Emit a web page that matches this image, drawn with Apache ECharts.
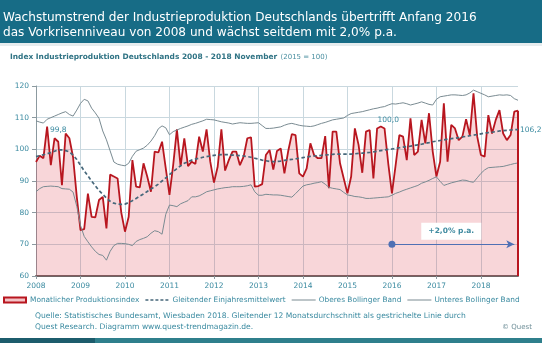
<!DOCTYPE html>
<html>
<head>
<meta charset="utf-8">
<script src="https://cdn.jsdelivr.net/npm/echarts@6/dist/echarts.min.js"></script>
<style>
  html, body { margin: 0; padding: 0; background: #ffffff; }
  #chart { width: 542px; height: 343px; }
</style>
</head>
<body>
<div id="chart"></div>
<script>
// ---- data: German industrial production index, monthly, Jan 2008 - Nov 2018 (2015 = 100)
const years = [2008, 2009, 2010, 2011, 2012, 2013, 2014, 2015, 2016, 2017, 2018];
const lastMonth = '2018-11';

const production = [
  96.0, 98.0, 97.2, 107.2, 95.0, 103.5, 102.4, 88.7, 105.0, 103.5, 97.5, 85.0,
  74.5, 74.8, 86.0, 78.7, 78.5, 84.0, 85.0, 75.0, 92.0, 91.4, 90.8, 80.0,
  74.0, 78.7, 96.6, 88.2, 88.0, 95.6, 91.4, 86.6, 99.3, 99.0, 102.4, 94.0,
  85.6, 95.0, 106.3, 94.7, 103.5, 94.7, 96.1, 95.4, 104.0, 99.3, 106.3, 96.1,
  89.5, 94.5, 106.3, 93.3, 96.6, 99.3, 99.3, 95.0, 97.7, 103.5, 103.8, 88.2,
  88.4, 89.0, 98.2, 99.8, 93.6, 99.5, 100.3, 92.4, 99.3, 104.8, 104.5, 92.4,
  91.4, 94.0, 101.9, 98.2, 97.2, 97.2, 104.2, 87.7, 105.6, 105.6, 95.6, 90.8,
  86.1, 91.4, 106.6, 101.4, 92.6, 105.6, 106.1, 90.8, 106.6, 107.2, 106.6, 95.6,
  86.1, 95.0, 104.5, 104.0, 96.6, 109.8, 98.2, 99.3, 109.3, 101.9, 111.4, 99.3,
  91.4, 96.1, 114.5, 96.1, 107.7, 106.6, 102.9, 104.0, 109.5, 104.5, 117.7, 104.0,
  98.2, 97.7, 110.8, 105.0, 109.3, 112.4, 105.0, 102.9, 104.5, 111.9, 112.2
];

// 12-month moving average (dashed line)
const movingAverage = [
  97.7, 98.0, 98.3, 98.6, 99.0, 99.4, 99.8, 99.8, 99.6, 99.2, 98.2, 96.8,
  95.0, 93.2, 91.6, 90.0, 88.5, 87.0, 85.8, 84.6, 83.6, 83.0, 82.7, 82.6,
  82.7, 83.2, 83.8, 84.5, 85.2, 85.9, 86.7, 87.5, 88.2, 89.0, 90.0, 91.0,
  92.0, 93.0, 93.9, 94.8, 95.6, 96.1, 96.6, 96.9, 97.2, 97.5, 97.7, 97.9,
  98.1, 98.2, 98.3, 98.3, 98.3, 98.2, 98.1, 98.0, 97.9, 97.7, 97.5, 97.2,
  96.9, 96.6, 96.4, 96.2, 96.1, 96.2, 96.3, 96.5, 96.7, 96.8, 97.0, 97.2,
  97.4, 97.6, 97.8, 97.9, 98.0, 98.1, 98.2, 98.3, 98.4, 98.5, 98.5, 98.5,
  98.5, 98.5, 98.6, 98.7, 98.8, 98.9, 99.0, 99.2, 99.4, 99.6, 99.8, 100.0,
  100.1, 100.3, 100.5, 100.7, 100.9, 101.0, 101.2, 101.4, 101.6, 101.9, 102.1, 102.4,
  102.6, 102.8, 103.0, 103.2, 103.4, 103.5, 103.7, 103.9, 104.1, 104.3, 104.5, 104.7,
  104.9, 105.1, 105.3, 105.4, 105.6, 105.8, 105.9, 106.0, 106.1, 106.2, 106.2
];

const upperBand = [
  109.0, 108.6, 108.3, 109.5, 110.0, 110.5, 111.0, 111.5, 111.9, 111.0, 110.5, 112.4,
  114.5, 115.8, 115.3, 113.0, 111.5, 109.8, 105.8, 103.0, 99.5, 96.0, 95.3, 95.0,
  94.8, 95.6, 97.8, 99.4, 99.9, 100.4, 101.3, 102.6, 104.3, 106.5, 107.4, 106.8,
  104.6, 105.6, 106.1, 106.6, 107.0, 107.4, 107.9, 108.2, 108.6, 109.0, 109.5, 109.4,
  109.3, 109.0, 108.7, 108.5, 108.3, 108.0, 108.2, 108.4, 108.3, 108.2, 108.2, 108.3,
  108.4, 107.5, 106.6, 106.6, 106.7, 106.9, 107.1, 107.6, 108.0, 108.2, 107.9, 107.6,
  107.4, 107.3, 107.2, 107.4, 107.8, 108.2, 108.5, 108.9, 109.3, 109.5, 109.7, 109.9,
  110.7, 111.3, 111.5, 111.7, 111.9, 112.2, 112.5, 112.8, 113.0, 113.3, 113.5, 114.0,
  114.4, 114.3, 114.5, 114.7, 114.4, 114.0, 114.3, 114.6, 115.0, 114.6, 114.2, 114.0,
  115.8, 116.6, 116.8, 117.0, 117.2, 117.2, 117.1, 117.0, 117.2, 117.8, 118.7, 118.2,
  117.7, 117.2, 116.6, 116.8, 117.0, 117.2, 117.1, 117.2, 117.0, 116.0, 115.5
];

const lowerBand = [
  86.6, 87.6, 88.2, 88.3, 88.4, 88.3, 88.2, 87.6, 87.5, 87.4, 86.5, 82.0,
  76.0, 72.5, 70.8, 69.2, 67.8, 66.8, 66.5, 65.0, 67.8, 69.6, 70.3, 70.3,
  70.2, 70.0, 69.6, 70.9, 71.5, 71.9, 72.4, 73.5, 74.3, 74.0, 73.2, 79.5,
  82.4, 82.2, 81.9, 82.8, 83.3, 83.8, 85.0, 85.0, 85.3, 85.9, 86.6, 86.9,
  87.2, 87.5, 87.7, 87.9, 88.0, 88.2, 88.2, 88.2, 88.3, 88.5, 88.8, 86.6,
  85.5, 85.5, 85.8, 85.7, 85.6, 85.6, 85.5, 85.3, 85.1, 84.9, 86.0, 87.2,
  88.4, 88.8, 89.0, 89.3, 89.5, 89.8, 89.0, 88.0, 87.7, 87.5, 87.3, 86.4,
  85.6, 85.4, 85.1, 85.0, 84.8, 84.5, 84.5, 84.6, 84.7, 84.8, 84.9, 85.0,
  85.5, 86.1, 86.5, 87.0, 87.4, 87.8, 88.2, 88.6, 89.3, 89.7, 90.2, 90.8,
  91.3, 89.9, 88.6, 89.0, 89.4, 89.7, 90.0, 90.3, 90.2, 89.8, 89.6, 91.0,
  92.4, 93.5, 94.2, 94.3, 94.4, 94.5, 94.6, 94.9, 95.2, 95.5, 95.7
];

// moving-average values written on the chart
const averageCallouts = ['2008-07', '2015-12', '2018-11'];

// trend annotation: +2,0 % per year since January 2016
const trendStart = '2016-01';
const trendEnd = '2018-10';
const trendLevel = 70;
const trendText = '+2,0% p.a.';
const trendTextAt = ['2017-05', 74.1];

const yTicks = [60, 70, 80, 90, 100, 110, 120];

const titleLines = [
  'Wachstumstrend der Industrieproduktion Deutschlands übertrifft Anfang 2016',
  'das Vorkrisenniveau von 2008 und wächst seitdem mit 2,0% p.a.'
];
const subtitleMain = 'Index Industrieproduktion Deutschlands 2008 - 2018 November';
const subtitleNote = '(2015 = 100)';
const legendNames = [
  'Monatlicher Produktionsindex',
  'Gleitender Einjahresmittelwert',
  'Oberes Bollinger Band',
  'Unteres Bollinger Band'
];
const sourceLines = [
  'Quelle: Statistisches Bundesamt, Wiesbaden 2018. Gleitender 12 Monatsdurchschnitt als gestrichelte Linie durch',
  'Quest Research. Diagramm www.quest-trendmagazin.de.'
];
const copyright = '© Quest';

// ---- month categories
const months = [];
years.forEach(y => {
  for (let m = 1; m <= 12; m++) {
    if (months.length && months[months.length - 1] === lastMonth) return;
    months.push(y + '-' + String(m).padStart(2, '0'));
  }
});

// ---- styles
const FONT = "'DejaVu Sans', Verdana, sans-serif";
const TEAL = '#3a8aa0';
const RED = '#b8161f';
const PINK_AREA = 'rgba(217, 48, 60, 0.28)';
const AVG_COLOR = '#46677a';
const BAND_COLOR = '#7a8b92';
const GRID_COLOR = '#c9d8df';
const ARROW_COLOR = '#4f70b4';
const SMALL_FONT = "7.4px 'DejaVu Sans'";
const comma = v => v.toFixed(1).replace('.', ',');

// placement of the value callouts on the dashed line
const calloutStyle = {
  '2008-07': { position: 'top', distance: 16 },
  '2015-12': { position: 'top', distance: 25 },
  '2018-11': { position: 'right', distance: 2 }
};

const calloutPoints = averageCallouts.map(month => {
  const i = months.indexOf(month);
  const st = calloutStyle[month];
  return {
    coord: [month, movingAverage[i]],
    value: movingAverage[i],
    symbol: 'circle',
    symbolSize: 0,
    label: {
      show: true, position: st.position, distance: st.distance,
      formatter: p => comma(p.value), color: TEAL,
      fontFamily: FONT, fontSize: 7.5
    }
  };
});

const lastIdx = months.length - 1;

// ---- legend (custom drawn, single row running off the right edge)
const measureCtx = document.createElement('canvas').getContext('2d');
measureCtx.font = SMALL_FONT;
const legendY = 300;
const legendElems = [];
let lx = 3;
legendNames.forEach((name, k) => {
  const iconW = 24;
  if (k === 0) {
    legendElems.push({ type: 'rect', shape: { x: lx + 1, y: legendY - 2.5, width: iconW - 2, height: 5 },
      style: { fill: '#f3c3c6', stroke: RED, lineWidth: 2 } });
  } else {
    legendElems.push({ type: 'line', shape: { x1: lx, y1: legendY, x2: lx + iconW, y2: legendY },
      style: k === 1
        ? { stroke: AVG_COLOR, lineWidth: 1.6, lineDash: [3, 2] }
        : { stroke: BAND_COLOR, lineWidth: 1 } });
  }
  legendElems.push({ type: 'text', x: lx + iconW + 3, y: legendY,
    style: { text: name, fill: TEAL, font: SMALL_FONT, verticalAlign: 'middle' } });
  lx += iconW + 3 + measureCtx.measureText(name).width + 6;
});

const chart = echarts.init(document.getElementById('chart'), null, { renderer: 'canvas' });

chart.setOption({
  animation: false,
  backgroundColor: '#ffffff',
  textStyle: { fontFamily: FONT },
  grid: { left: 36, right: 24, top: 86, bottom: 67 },
  xAxis: {
    type: 'category',
    data: months,
    boundaryGap: false,
    axisLine: { show: true, lineStyle: { color: '#6e6666', width: 2 } },
    axisTick: { show: true, length: 3, interval: (i) => i % 12 === 0, lineStyle: { color: '#8c9aa0' } },
    axisLabel: {
      interval: (i) => i % 12 === 0,
      formatter: v => v.slice(0, 4),
      color: TEAL, fontSize: 7.5, fontFamily: FONT, margin: 6
    },
    splitLine: { show: true, interval: (i) => i % 12 === 0, lineStyle: { color: GRID_COLOR, width: 1 } }
  },
  yAxis: {
    type: 'value',
    min: yTicks[0], max: yTicks[yTicks.length - 1], interval: 10,
    axisLine: { show: true, lineStyle: { color: '#8c9aa0', width: 1 } },
    axisTick: { show: true, length: 4, lineStyle: { color: '#8c9aa0' } },
    axisLabel: { color: TEAL, fontSize: 7.5, fontFamily: FONT, margin: 7 },
    splitLine: { show: true, lineStyle: { color: GRID_COLOR, width: 1 } }
  },
  series: [
    {
      name: legendNames[0],
      type: 'line',
      data: production,
      symbol: 'none',
      lineStyle: { color: RED, width: 1.8 },
      areaStyle: { color: PINK_AREA, origin: 'start' },
      z: 2,
      markLine: {
        silent: true, symbol: 'none', label: { show: false },
        lineStyle: { color: RED, width: 2, type: 'solid' },
        data: [[{ coord: [lastIdx, yTicks[0]] }, { coord: [lastIdx, production[lastIdx]] }]]
      }
    },
    {
      name: legendNames[1],
      type: 'line',
      data: movingAverage,
      symbol: 'none',
      lineStyle: { color: AVG_COLOR, width: 1.7, type: [3.5, 2.5] },
      z: 5,
      markPoint: {
        silent: true,
        data: calloutPoints
      }
    },
    {
      name: legendNames[2],
      type: 'line',
      data: upperBand,
      symbol: 'none',
      lineStyle: { color: BAND_COLOR, width: 1 },
      z: 4
    },
    {
      name: legendNames[3],
      type: 'line',
      data: lowerBand,
      symbol: 'none',
      lineStyle: { color: BAND_COLOR, width: 1 },
      z: 4,
      markLine: {
        silent: true,
        label: { show: false },
        lineStyle: { color: ARROW_COLOR, width: 1.2, type: 'solid' },
        data: [[
          { coord: [trendStart, trendLevel], symbol: 'circle', symbolSize: 7 },
          { coord: [trendEnd, trendLevel], symbol: 'arrow', symbolSize: [6, 8] }
        ]]
      },
      markPoint: {
        silent: true,
        data: [{
          coord: trendTextAt,
          symbol: 'rect', symbolSize: [60, 17],
          itemStyle: { color: '#ffffff' },
          label: {
            show: true, position: 'inside', formatter: trendText,
            color: '#3f8aa0', fontSize: 7.5, fontWeight: 'bold', fontFamily: FONT
          }
        }]
      }
    }
  ],
  graphic: [
    { type: 'rect', shape: { x: 0, y: 0, width: 542, height: 43 }, style: { fill: '#176c86' }, z: 0 },
    { type: 'rect', shape: { x: 0, y: 43, width: 542, height: 3 }, style: { fill: '#e6ecee' }, z: 0 },
    { type: 'text', x: 3, y: 17.5,
      style: { text: titleLines[0], fill: '#ffffff', font: "12.1px 'DejaVu Sans'", verticalAlign: 'middle' } },
    { type: 'text', x: 3, y: 33,
      style: { text: titleLines[1], fill: '#ffffff', font: "12.1px 'DejaVu Sans'", verticalAlign: 'middle' } },
    { type: 'text', x: 10, y: 57.5,
      style: {
        text: '{b|' + subtitleMain + '} {n|' + subtitleNote + '}',
        verticalAlign: 'middle',
        rich: {
          b: { fill: '#2f7384', fontFamily: FONT, fontSize: 7.45, fontWeight: 'bold' },
          n: { fill: '#4a8fa0', fontFamily: FONT, fontSize: 7 }
        }
      } },
    ...legendElems,
    { type: 'text', x: 35, y: 316.5,
      style: { text: sourceLines[0], fill: TEAL, font: "7.6px 'DejaVu Sans'", verticalAlign: 'middle' } },
    { type: 'text', x: 35, y: 327,
      style: { text: sourceLines[1], fill: TEAL, font: "7.6px 'DejaVu Sans'", verticalAlign: 'middle' } },
    { type: 'text', x: 502, y: 327,
      style: { text: copyright, fill: '#6f8f98', font: "7px 'DejaVu Sans'", verticalAlign: 'middle' } },
    { type: 'rect', shape: { x: 0, y: 338, width: 95, height: 5 }, style: { fill: '#1c5c6c' } },
    { type: 'rect', shape: { x: 95, y: 338, width: 447, height: 5 }, style: { fill: '#2f7f8c' } }
  ]
});
</script>
</body>
</html>
